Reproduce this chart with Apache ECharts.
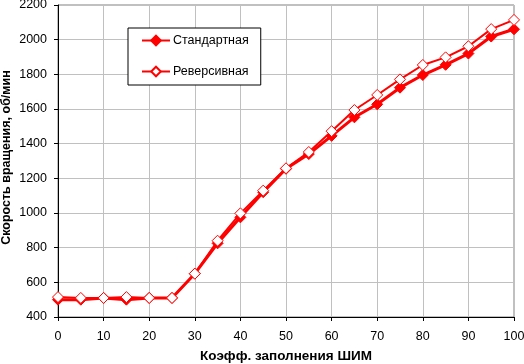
<!DOCTYPE html>
<html>
<head>
<meta charset="utf-8">
<script src="https://cdn.jsdelivr.net/npm/echarts@6/dist/echarts.min.js"></script>
<style>html,body{margin:0;padding:0;background:#fff;}#c{width:524px;height:364px;}</style>
</head>
<body>
<div id="c"></div>
<script>
const xValues = [0,5,10,15,20,25,30,35,40,45,50,55,60,65,70,75,80,85,90,95,100];
const standard = [500,500,510,500,510,510,650,825,975,1120,1255,1340,1445,1552,1627,1723,1796,1855,1920,2018,2060];
const reversed = [515,510,510,515,510,510,650,840,998,1129,1258,1352,1472,1594,1681,1771,1854,1898,1962,2061,2114];
const seriesNames = ['Стандартная','Реверсивная'];
const xTitle = 'Коэфф. заполнения ШИМ';
const yTitle = 'Скорость вращения, об/мин';

const font = 'Liberation Sans, Arial, sans-serif';
const chart = echarts.init(document.getElementById('c'), null, {renderer:'canvas'});
chart.setOption({
  animation:false,
  backgroundColor:'#fff',
  grid:{left:58,right:10,top:5,bottom:47,show:true,borderColor:'#808080',borderWidth:1,
        containLabel:false,outerBoundsMode:'none'},
  legend:{
    orient:'vertical',left:128,top:28,
    padding:[6,12,7,13],itemGap:18,itemWidth:28,itemHeight:12,
    borderColor:'#000',borderWidth:1,backgroundColor:'#fff',
    textStyle:{fontFamily:font,fontSize:12.5,color:'#000',padding:[0,0,0,-2]},
    data:seriesNames
  },
  xAxis:{
    type:'value',min:0,max:100,interval:10,
    name:xTitle,nameLocation:'middle',nameGap:32,nameMoveOverlap:false,
    nameTextStyle:{fontFamily:font,fontSize:13.5,fontWeight:'bold',color:'#000'},
    axisLine:{lineStyle:{color:'#000',width:1}},
    axisTick:{show:true,length:4,lineStyle:{color:'#000'}},
    axisLabel:{fontFamily:font,fontSize:12.5,color:'#000',margin:13,formatter:v=>String(v)},
    splitLine:{show:true,lineStyle:{color:'#c0c0c0',width:1}}
  },
  yAxis:{
    type:'value',min:400,max:2200,interval:200,
    name:yTitle,nameLocation:'middle',nameGap:45,nameRotate:90,nameMoveOverlap:false,
    nameTextStyle:{fontFamily:font,fontSize:12.5,fontWeight:'bold',color:'#000',padding:[0,0,0,7]},
    axisLine:{show:true,lineStyle:{color:'#000',width:1}},
    axisTick:{show:true,length:4,lineStyle:{color:'#000'}},
    axisLabel:{fontFamily:font,fontSize:12.5,color:'#000',margin:11,formatter:v=>String(v)},
    splitLine:{show:true,lineStyle:{color:'#c0c0c0',width:1}}
  },
  series:[
    {name:seriesNames[0],type:'line',data:xValues.map((x,i)=>[x,standard[i]]),
     symbol:'diamond',symbolSize:11,
     lineStyle:{color:'#ff0000',width:3},
     itemStyle:{color:'#ff0000',borderColor:'#ff0000',borderWidth:1}},
    {name:seriesNames[1],type:'line',data:xValues.map((x,i)=>[x,reversed[i]]),
     symbol:'diamond',symbolSize:11,
     lineStyle:{color:'#ff0000',width:2},
     itemStyle:{color:'#ffffff',borderColor:'#ff0000',borderWidth:1}}
  ]
});
</script>
</body>
</html>
